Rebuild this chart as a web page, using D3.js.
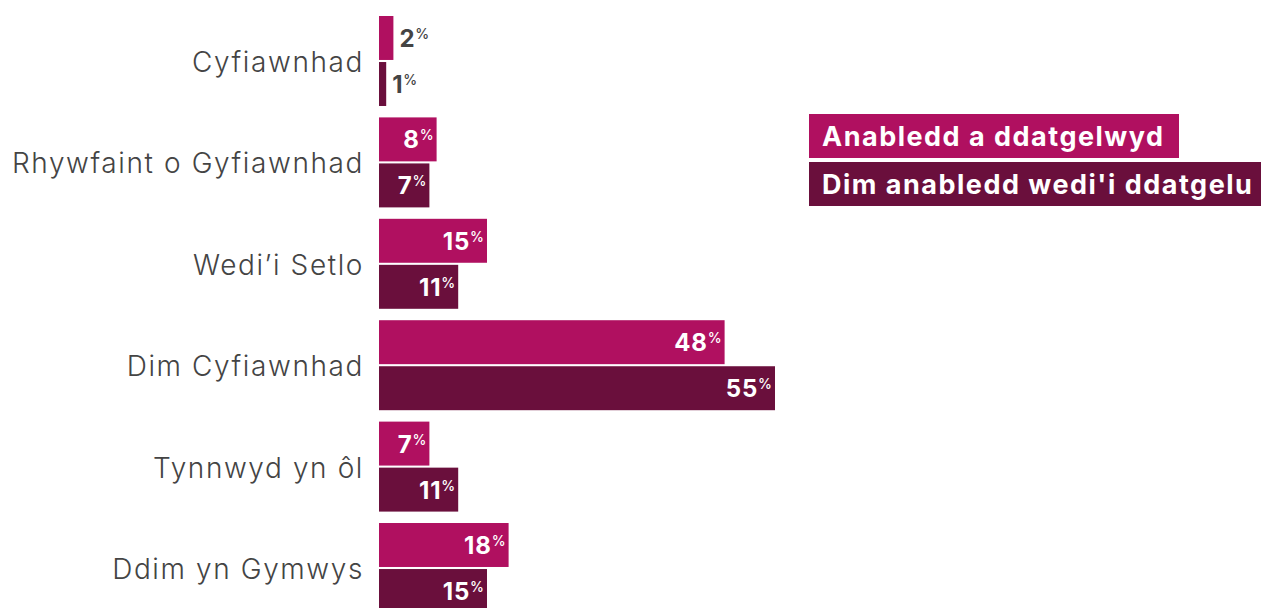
<!DOCTYPE html>
<html>
<head>
<meta charset="utf-8">
<script src="https://cdn.jsdelivr.net/npm/d3@7"></script>
<style>
  body { margin: 0; background: #fff; }
  text { font-family: Inter, "Noto Sans", sans-serif; }
</style>
</head>
<body>
<script>
// chart data
var categories = ["Cyfiawnhad", "Rhywfaint o Gyfiawnhad", "Wedi\u2019i Setlo", "Dim Cyfiawnhad", "Tynnwyd yn \u00f4l", "Ddim yn Gymwys"];
var seriesNames = ["Anabledd a ddatgelwyd", "Dim anabledd wedi'i ddatgelu"];
var disclosed = [2, 8, 15, 48, 7, 18];
var notDisclosed = [1, 7, 11, 55, 11, 15];
var colours = ["#b01060", "#6a0f3c"];

var width = 1261, height = 608;

var svg = d3.select("body").append("svg")
    .attr("width", width)
    .attr("height", height);

//x scale for percentages
var x = d3.scaleLinear()
    .domain([0, 55])
    .range([379, 775]);

//one band per category, sub band per series
var y0 = d3.scaleBand()
    .domain(categories)
    .range([16, 613])
    .paddingInner(0.1126)
    .paddingOuter(0);

var y1 = d3.scaleBand()
    .domain([0, 1])
    .range([0, y0.bandwidth()])
    .paddingInner(0.045);

var rows = [];
categories.forEach(function(c, i){
    rows.push({cat: c, s: 0, v: disclosed[i]});
    rows.push({cat: c, s: 1, v: notDisclosed[i]});
});

//category labels
svg.selectAll(".cat")
    .data(categories)
    .enter()
    .append("text")
    .attr("class", "cat")
    .attr("x", 364)
    .attr("y", function(d){ return y0(d) + y0.bandwidth() / 2 + 11; })
    .attr("text-anchor", "end")
    .attr("font-size", 28)
    .attr("font-weight", 300)
    .attr("letter-spacing", 1.6)
    .attr("fill", "#444")
    .text(function(d){ return d; });

//bars
svg.selectAll(".bar")
    .data(rows)
    .enter()
    .append("rect")
    .attr("class", "bar")
    .attr("x", x(0))
    .attr("y", function(d){ return y0(d.cat) + y1(d.s); })
    .attr("width", function(d){ return x(d.v) - x(0); })
    .attr("height", y1.bandwidth())
    .attr("fill", function(d){ return colours[d.s]; });

//value labels, inside the bar unless too small
var labels = svg.selectAll(".val")
    .data(rows)
    .enter()
    .append("text")
    .attr("class", "val")
    .attr("y", function(d){ return y0(d.cat) + y1(d.s) + y1.bandwidth() / 2 + 9; })
    .attr("font-weight", 700)
    .attr("font-size", 24);

labels.each(function(d){
    var inside = d.v >= 5;
    var t = d3.select(this)
        .attr("x", inside ? x(d.v) - 3 : x(d.v) + 6)
        .attr("text-anchor", inside ? "end" : "start")
        .attr("fill", inside ? "#fff" : "#444");
    t.append("tspan").attr("letter-spacing", 0.8).text(d.v);
    t.append("tspan")
        .attr("font-size", 14)
        .attr("font-weight", 500)
        .attr("dy", -8)
        .text("%");
});

//legend
var legend = svg.selectAll(".legend")
    .data(seriesNames)
    .enter()
    .append("g")
    .attr("class", "legend");

var legendBoxes = [[809, 114, 370], [809, 162, 452]];

legend.append("rect")
    .attr("x", function(d, i){ return legendBoxes[i][0]; })
    .attr("y", function(d, i){ return legendBoxes[i][1]; })
    .attr("width", function(d, i){ return legendBoxes[i][2]; })
    .attr("height", 44)
    .attr("fill", function(d, i){ return colours[i]; });

legend.append("text")
    .attr("x", 822)
    .attr("y", function(d, i){ return legendBoxes[i][1] + 32; })
    .attr("font-size", 27)
    .attr("font-weight", 700)
    .attr("letter-spacing", 1.5)
    .attr("fill", "#fff")
    .text(function(d){ return d; });
</script>
</body>
</html>
